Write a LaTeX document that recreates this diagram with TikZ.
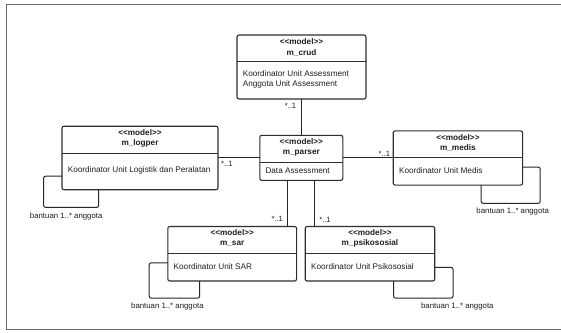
\documentclass[tikz,border=0pt]{standalone}
\usepackage{fontspec}
\setmainfont{Liberation Sans}
\definecolor{boxc}{HTML}{2E2E2E}
\definecolor{linec}{HTML}{262626}
\definecolor{txtc}{HTML}{1E1E1E}
\definecolor{framec}{HTML}{6A6A6A}
\newcommand{\stereotype}{<\kern0pt<model>\kern0pt>}
\begin{document}
\begin{tikzpicture}[x=1pt,y=-1pt,
  cls/.style={draw=boxc, line width=1.1pt, rounded corners=2pt, inner sep=0pt, outer sep=0pt, anchor=north west},
  sep/.style={draw=boxc, line width=0.9pt},
  title/.style={font=\fontsize{8.2}{10.1}\selectfont\bfseries, text=txtc, inner sep=0pt, align=center},
  attr/.style={font=\fontsize{8.2}{10}\selectfont, text=txtc, inner sep=0pt, anchor=west, align=left},
  mult/.style={font=\fontsize{7.6}{9}\selectfont, text=txtc, inner sep=0pt},
  loopnote/.style={font=\fontsize{7.8}{9}\selectfont, text=txtc, inner sep=0pt},
  assoc/.style={draw=linec, line width=1pt},
  selfloop/.style={draw=linec, line width=1pt, rounded corners=2pt},
]
% page and outer frame
\fill[white] (0,0) rectangle (561,332);
\useasboundingbox (0,0) rectangle (561,332);
\draw[framec, line width=1.4pt] (6.5,4.5) rectangle (575,329.5);

% class boxes
\node[cls, minimum width=129pt, minimum height=64pt] (crud) at (237,35) {};
\node[cls, minimum width=83pt, minimum height=45pt] (parser) at (259.8,135.3) {};
\node[cls, minimum width=156pt, minimum height=63.5pt] (logper) at (62,126.2) {};
\node[cls, minimum width=129.4pt, minimum height=54.2pt] (medis) at (393.2,130.9) {};
\node[cls, minimum width=128.8pt, minimum height=54.5pt] (sar) at (167.8,226.5) {};
\node[cls, minimum width=129.5pt, minimum height=54.5pt] (psiko) at (305.2,226.5) {};

% compartment dividers
\draw[sep] (crud.west |- 0,61.9) -- (crud.east |- 0,61.9);
\draw[sep] (parser.west |- 0,162.2) -- (parser.east |- 0,162.2);
\draw[sep] (logper.west |- 0,153.6) -- (logper.east |- 0,153.6);
\draw[sep] (medis.west |- 0,157.7) -- (medis.east |- 0,157.7);
\draw[sep] (sar.west |- 0,253) -- (sar.east |- 0,253);
\draw[sep] (psiko.west |- 0,253) -- (psiko.east |- 0,253);

% class names
\node[title] (crudT) at (crud.north |- 0,47.5) {\stereotype\\m\_crud};
\node[title] (parserT) at (parser.north |- 0,147.8) {\stereotype\\m\_parser};
\node[title] (logperT) at (logper.north |- 0,138.6) {\stereotype\\m\_logper};
\node[title] (medisT) at (medis.north |- 0,142.9) {\stereotype\\m\_medis};
\node[title] (sarT) at (sar.north |- 0,238.3) {\stereotype\\m\_sar};
\node[title] (psikoT) at (psiko.north |- 0,238.3) {\stereotype\\m\_psikososial};

% attributes
\node[attr] (crudA) at (242.6,79.2) {Koordinator Unit Assessment\\Anggota Unit Assessment};
\node[attr] (parserA) at (265.3,170.6) {Data Assessment};
\node[attr] (logperA) at (67.6,170.6) {Koordinator Unit Logistik dan Peralatan};
\node[attr] (medisA) at (398.9,170.6) {Koordinator Unit Medis};
\node[attr] (sarA) at (173.5,266.2) {Koordinator Unit SAR};
\node[attr] (psikoA) at (311,266.2) {Koordinator Unit Psikososial};

% associations to the parser
\draw[assoc] (crud.south) -- (crud.south |- parser.north);
\draw[assoc] (logper.east |- 0,157.6) -- (parser.west |- 0,157.6);
\draw[assoc] (parser.east |- 0,157.6) -- (medis.west |- 0,157.6);
\draw[assoc] (parser.south -| 287.3,0) -- (sar.north -| 287.3,0);
\draw[assoc] (parser.south -| 314.8,0) -- (psiko.north -| 314.8,0);

% multiplicities
\node[mult] (mCrud) at (290.5,105.5) {*..1};
\node[mult] (mLogper) at (226.8,164) {*..1};
\node[mult] (mMedis) at (384.3,153.4) {*..1};
\node[mult] (mSar) at (277.2,218.6) {*..1};
\node[mult] (mPsiko) at (325,219.8) {*..1};

% reflexive associations
\draw[selfloop] (logper.west |- 0,176.2) -- (43.6,176.2) -- (43.6,207.4) -- (98.7,207.4) -- (logper.south -| 98.7,0);
\draw[selfloop] (medis.east |- 0,167.1) -- (540.2,167.1) -- (540.2,203.4) -- (481.2,203.4) -- (medis.south -| 481.2,0);
\draw[selfloop] (sar.west |- 0,262.8) -- (149.2,262.8) -- (149.2,298.2) -- (199.6,298.2) -- (sar.south -| 199.6,0);
\draw[selfloop] (psiko.east |- 0,267.4) -- (453,267.4) -- (453,298.2) -- (393.6,298.2) -- (psiko.south -| 393.6,0);

\node[loopnote] (lLogper) at (66.2,216) {bantuan 1..* anggota};
\node[loopnote] (lMedis) at (512.7,211.6) {bantuan 1..* anggota};
\node[loopnote] (lSar) at (167.4,306.6) {bantuan 1..* anggota};
\node[loopnote] (lPsiko) at (457.3,306.6) {bantuan 1..* anggota};
\end{tikzpicture}
\end{document}
